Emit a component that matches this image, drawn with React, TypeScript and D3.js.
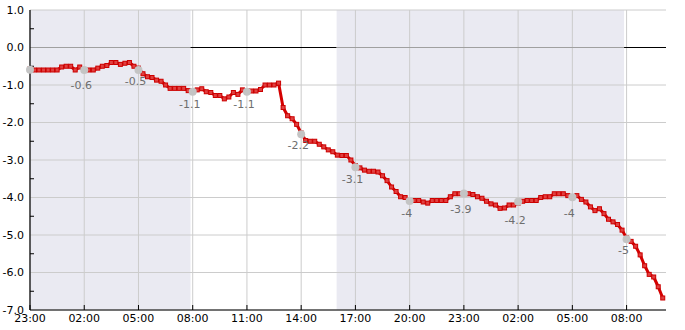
import React from "react";
import * as d3 from "d3";

// hours since 23:00 (day 1), sampled every 15 minutes
const startHour = 23;
const stepHours = 0.25;
const values: number[] = [
  -0.57, -0.6, -0.6, -0.6, -0.6, -0.6, -0.6, -0.52, -0.5, -0.5,
  -0.6, -0.52, -0.6, -0.6, -0.6, -0.55, -0.5, -0.48, -0.4, -0.4,
  -0.45, -0.42, -0.4, -0.5, -0.55, -0.7, -0.78, -0.8, -0.87, -0.9,
  -1.0, -1.09, -1.09, -1.09, -1.09, -1.15, -1.15, -1.13, -1.1, -1.18,
  -1.2, -1.28, -1.28, -1.37, -1.32, -1.2, -1.25, -1.13, -1.15, -1.16,
  -1.16, -1.12, -1.0, -1.0, -1.0, -0.95, -1.6, -1.82, -1.9, -2.05,
  -2.28, -2.48, -2.5, -2.5, -2.58, -2.65, -2.73, -2.78, -2.87, -2.88,
  -2.88, -3.0, -3.15, -3.21, -3.27, -3.3, -3.3, -3.32, -3.42, -3.55,
  -3.72, -3.84, -3.98, -4.0, -4.08, -4.08, -4.08, -4.12, -4.15, -4.08,
  -4.08, -4.08, -4.08, -3.98, -3.9, -3.9, -3.9, -3.9, -3.92, -3.98,
  -4.02, -4.1, -4.17, -4.2, -4.29, -4.28, -4.2, -4.2, -4.15, -4.1,
  -4.08, -4.08, -4.08, -4.0, -3.98, -3.98, -3.9, -3.9, -3.9, -3.95,
  -3.98, -3.95, -4.05, -4.12, -4.25, -4.35, -4.3, -4.43, -4.58, -4.65,
  -4.72, -4.87, -5.08, -5.17, -5.3, -5.53, -5.82, -6.05, -6.12, -6.38,
  -6.68,
];

// grey markers every 3 hours
const markerHours = [0, 3, 6, 9, 12, 15, 18, 21, 24, 27, 30, 33];
const markerValues = [-0.59, -0.6, -0.6, -1.18, -1.18, -2.31, -3.19, -4.09, -3.89, -4.11, -3.99, -5.11];
const markerLabels = ["", "-0.6", "-0.5", "-1.1", "-1.1", "-2.2", "-3.1", "-4", "-3.9", "-4.2", "-4", "-5"];

// shaded periods (hours since 23:00)
const bands: [number, number][] = [
  [0, 8.88],
  [16.96, 32.86],
];

const xTickHours = [0, 3, 6, 9, 12, 15, 18, 21, 24, 27, 30, 33];
const yTicks = [1, 0, -1, -2, -3, -4, -5, -6, -7];
const yMinorTicks = [0.5, -0.5, -1.5, -2.5, -3.5, -4.5, -5.5, -6.5];
const xDomain: [number, number] = [0, 35.18];
const yDomain: [number, number] = [-7, 1];

const W = 685;
const H = 330;
const left = 30;
const right = 666;
const top = 10;
const bottom = 310;

function fmtHour(h: number) {
  const hh = (startHour + h) % 24;
  return (hh < 10 ? "0" : "") + hh + ":00";
}

export default function App() {
  const x = d3.scaleLinear().domain(xDomain).range([left, right]);
  const y = d3.scaleLinear().domain(yDomain).range([bottom, top]);
  const pts = values.map((v, i) => [i * stepHours, v] as [number, number]);
  const line = d3
    .line<[number, number]>()
    .x((d) => x(d[0]))
    .y((d) => y(d[1]));

  // zero line segments: black outside bands, grey inside
  const zeroSegs: { a: number; b: number; c: string }[] = [];
  let cur = xDomain[0];
  bands.forEach(([a, b]) => {
    if (a > cur) zeroSegs.push({ a: cur, b: a, c: "#000" });
    zeroSegs.push({ a, b, c: "#a0a0a0" });
    cur = b;
  });
  if (cur < xDomain[1]) zeroSegs.push({ a: cur, b: xDomain[1], c: "#000" });

  const font = "DejaVu Sans, sans-serif";

  return (
    <svg
      width={W}
      height={H}
      style={{ position: "absolute", left: 0, top: 0, background: "#fff" }}
      fontFamily={font}
    >
      {bands.map(([a, b], i) => (
        <rect key={i} x={x(a)} y={top} width={x(b) - x(a)} height={bottom - top} fill="#eaeaf2" />
      ))}
      {yTicks.map((t) => (
        <line key={t} x1={left} x2={right} y1={y(t)} y2={y(t)} stroke="#cccccc" strokeWidth={1} />
      ))}
      {xTickHours.map((h) => (
        <line key={h} x1={x(h)} x2={x(h)} y1={top} y2={bottom} stroke="#cccccc" strokeWidth={1} />
      ))}
      {zeroSegs.map((s, i) => (
        <line key={i} x1={x(s.a)} x2={x(s.b)} y1={y(0)} y2={y(0)} stroke={s.c} strokeWidth={1.2} />
      ))}
      {/* axes */}
      <line x1={left} x2={left} y1={top} y2={bottom} stroke="#000" strokeWidth={1.2} />
      <line x1={left} x2={right} y1={bottom} y2={bottom} stroke="#000" strokeWidth={1.2} />
      {yMinorTicks.map((t) => (
        <line key={t} x1={left} x2={left + 4} y1={y(t)} y2={y(t)} stroke="#000" strokeWidth={1} />
      ))}
      {yTicks.map((t) => (
        <text key={t} x={left - 6} y={y(t)} dy="0.35em" textAnchor="end" fontSize={11} fill="#000">
          {d3.format(".1f")(t).replace("−", "-")}
        </text>
      ))}
      {xTickHours.map((h) => (
        <g key={h}>
          <line x1={x(h)} x2={x(h)} y1={bottom} y2={bottom - 5} stroke="#000" strokeWidth={1} />
          <text x={x(h)} y={bottom + 12} textAnchor="middle" fontSize={11} fill="#000">
            {fmtHour(h)}
          </text>
        </g>
      ))}
      {/* data */}
      <path d={line(pts) || ""} fill="none" stroke="#d40000" strokeWidth={3} strokeLinejoin="round" />
      {pts.map((p, i) => (
        <rect key={i} x={x(p[0]) - 2} y={y(p[1]) - 2} width={4} height={4} fill="#e04040" stroke="#cc0000" strokeWidth={1} />
      ))}
      {markerHours.map((h, i) => (
        <g key={h}>
          <circle cx={x(h)} cy={y(markerValues[i])} r={4} fill="#c4c4c4" />
          {markerLabels[i] && (
            <text x={x(h) - 3} y={y(parseFloat(markerLabels[i])) + 19} textAnchor="middle" fontSize={11} fill="#6e6e6e">
              {markerLabels[i]}
            </text>
          )}
        </g>
      ))}
    </svg>
  );
}
